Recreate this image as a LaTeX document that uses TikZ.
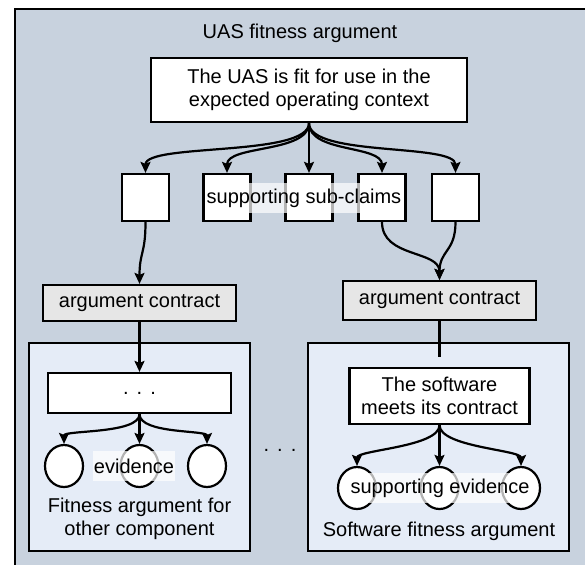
\documentclass[tikz,border=0pt]{standalone}
\usepackage{fontspec}
\setmainfont{Liberation Sans}
\usetikzlibrary{arrows.meta,shapes.geometric}
\definecolor{outerbg}{RGB}{200,210,222}
\definecolor{compbg}{RGB}{229,236,247}
\definecolor{contractbg}{RGB}{230,230,230}
\begin{document}
\begin{tikzpicture}[x=1pt,y=-1pt, font=\fontsize{20}{23}\selectfont,
  box/.style={draw, line width=2.2pt, fill=white, inner sep=0pt, align=center},
  claimbox/.style={box, minimum width=47pt, minimum height=47pt},
  contract/.style={box, fill=contractbg, minimum width=193pt},
  component/.style={draw, line width=2.2pt, fill=compbg, inner sep=0pt},
  evid/.style={ellipse, draw, line width=2.2pt, fill=white, minimum width=38pt, minimum height=42pt, inner sep=0pt},
  conn/.style={line width=2.2pt, -{Stealth[length=11pt,width=10pt,inset=2pt]}},
  lbl/.style={fill=white, fill opacity=0.7, text opacity=1, inner xsep=1pt, inner ysep=0pt, minimum height=30pt},
  plain/.style={inner sep=0pt, align=center}]
\useasboundingbox (0,0) rectangle (585,564);
\begin{scope}
  \clip (0,0) rectangle (585,564);
  \node[draw, line width=2.4pt, fill=outerbg, anchor=north west, minimum width=620pt, minimum height=600pt, inner sep=0pt] (outer) at (14,8) {};
\end{scope}
\node[plain] (title) at (300,33) {UAS fitness argument};
\node[box, minimum width=316pt, minimum height=64pt] (root) at (309,90) {The UAS is fit for use in the\\expected operating context};
% sub-claims
\node[claimbox] (c1) at (145.5,197.5) {};
\node[claimbox] (c2) at (227,197.5) {};
\node[claimbox] (c3) at (309,197.5) {};
\node[claimbox] (c4) at (382,197.5) {};
\node[claimbox] (c5) at (455.5,197.5) {};
\draw[conn] (root.south) .. controls +(0,34) and +(0,-30) .. (c1.north);
\draw[conn] (root.south) .. controls +(0,30) and +(0,-28) .. (c2.north);
\draw[conn] (root.south) -- (c3.north);
\draw[conn] (root.south) .. controls +(0,30) and +(0,-28) .. (c4.north);
\draw[conn] (root.south) .. controls +(0,34) and +(0,-30) .. (c5.north);
\node[lbl] (sublbl) at (304,198) {supporting sub-claims};
% contracts
\node[contract, minimum height=36pt] (ac1) at (139.5,303) {argument contract};
\node[contract, minimum height=39pt] (ac2) at (439.5,300.5) {argument contract};
\draw[conn] (c1.south) .. controls +(0,32) and +(0,-32) .. (ac1.north);
\draw[conn] (c4.south) .. controls +(0,36) and +(0,-30) .. (ac2.north);
\draw[conn] (c5.south) .. controls +(0,30) and +(0,-30) .. (ac2.north);
% components
\node[component, minimum width=221pt, minimum height=208pt] (comp1) at (139.5,447) {};
\node[component, minimum width=261pt, minimum height=208pt] (comp2) at (438.5,447) {};
\node[box, minimum width=183pt, minimum height=40pt] (g1) at (139.5,393) {.\hspace{8pt}.\hspace{8pt}.};
\draw[conn] (ac1.south) -- (g1.north);
\coordinate (ac2end) at (439.5,357);
\draw[line width=2.2pt] (ac2.south) -- (ac2end);
\node[box, minimum width=180pt, minimum height=56pt] (sw) at (439.5,396) {The software\\meets its contract};
% evidence
\node[evid] (e1) at (64,466) {};
\node[evid] (e2) at (139.5,466) {};
\node[evid] (e3) at (207,466) {};
\node[evid] (f1) at (357,488) {};
\node[evid] (f2) at (439.5,488) {};
\node[evid] (f3) at (521,488) {};
\draw[conn] (g1.south) .. controls +(0,20) and +(0,-14) .. (e1.north);
\draw[conn] (g1.south) -- (e2.north);
\draw[conn] (g1.south) .. controls +(0,20) and +(0,-14) .. (e3.north);
\draw[conn] (sw.south) .. controls +(0,22) and +(0,-16) .. (f1.north);
\draw[conn] (sw.south) -- (f2.north);
\draw[conn] (sw.south) .. controls +(0,22) and +(0,-16) .. (f3.north);
\node[lbl] (evl) at (134,466) {evidence};
\node[lbl] (sevl) at (440,488) {supporting evidence};
\node[plain] (cap1) at (139.5,519) {Fitness argument for\\other component};
\node[plain] (cap2) at (439,531) {Software fitness argument};
\node[plain] (mdots) at (280,450) {.\hspace{8pt}.\hspace{8pt}.};
\end{tikzpicture}
\end{document}
